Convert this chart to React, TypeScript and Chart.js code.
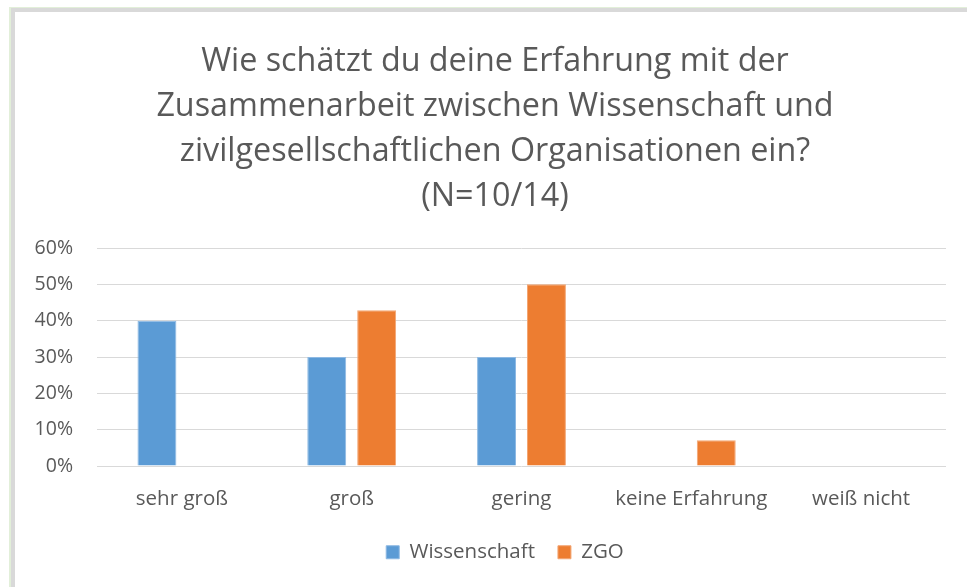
import React, { useEffect, useRef } from "react";
import { Chart, registerables } from "chart.js";

Chart.register(...registerables);

const titleLines = [
  "Wie schätzt du deine Erfahrung mit der",
  "Zusammenarbeit zwischen Wissenschaft und",
  "zivilgesellschaftlichen Organisationen ein?",
  "(N=10/14)",
];
const categories = ["sehr groß", "groß", "gering", "keine Erfahrung", "weiß nicht"];
const wissenschaft = [40, 30, 30, 0, 0];
const zgo = [0, 42.9, 50, 7.1, 0];
const yMax = 60;
const yStep = 10;

const FONT = "'Open Sans', 'Noto Sans', sans-serif";
const TEXT = "#595959";
const TITLE_SHIFT = 22;
const LEGEND_SHIFT = 32;

const boxShift = {
  id: "boxShift",
  afterLayout(chart: any) {
    const l = chart.legend;
    if (l) {
      l.left += LEGEND_SHIFT;
      l.right += LEGEND_SHIFT;
    }
    const t = chart.titleBlock;
    if (t) {
      t.left += TITLE_SHIFT;
      t.right += TITLE_SHIFT;
    }
  },
};

export default function App() {
  const ref = useRef<HTMLCanvasElement | null>(null);
  useEffect(() => {
    if (!ref.current) return;
    const chart = new Chart(ref.current, {
      type: "bar",
      data: {
        labels: categories,
        datasets: [
          {
            label: "Wissenschaft",
            data: wissenschaft,
            backgroundColor: "#5B9BD5",
            borderColor: "#8DB9E3",
            borderWidth: 1,
            barPercentage: 0.78,
            categoryPercentage: 0.588,
          },
          {
            label: "ZGO",
            data: zgo,
            backgroundColor: "#ED7D31",
            borderColor: "#F3A674",
            borderWidth: 1,
            barPercentage: 0.78,
            categoryPercentage: 0.588,
          },
        ],
      },
      plugins: [boxShift],
      options: {
        responsive: false,
        animation: false,
        layout: { padding: { left: 0, right: 21, top: 0, bottom: 14.5 } },
        plugins: {
          title: {
            display: true,
            text: titleLines,
            color: TEXT,
            font: { family: FONT, size: 32.3, weight: "normal", lineHeight: "45px" },
            padding: { top: 39, bottom: 29 },
          },
          legend: {
            position: "bottom",
            labels: {
              color: TEXT,
              font: { family: FONT, size: 20.5 },
              boxWidth: 13,
              boxHeight: 13,
              padding: 23,
            },
          },
          tooltip: { enabled: false },
        },
        scales: {
          x: {
            grid: { display: false },
            border: { display: false },
            ticks: {
              color: TEXT,
              font: { family: FONT, size: 20.5 },
              padding: 13,
              maxRotation: 0,
            },
            afterFit: (s: any) => {
              s.height = 53;
            },
          },
          y: {
            min: 0,
            max: yMax,
            grid: { color: "#D9D9D9", lineWidth: 1, drawTicks: false },
            border: { display: false },
            ticks: {
              stepSize: yStep,
              color: TEXT,
              font: { family: FONT, size: 19.5 },
              padding: 24,
              callback: (v: any) => `${v}%`,
            },
            afterFit: (s: any) => {
              s.width = 97;
            },
          },
        },
      },
    });
    return () => chart.destroy();
  }, []);

  return (
    <div style={{ position: "fixed", left: 0, top: 0, width: 967, height: 587, background: "#fff" }}>
      <canvas ref={ref} width={967} height={587} style={{ position: "absolute", left: 0, top: 0 }} />
      <div
        style={{
          position: "absolute",
          left: 9,
          top: 7,
          width: 958,
          height: 580,
          boxSizing: "border-box",
          borderTop: "1px solid #E2EFD9",
          borderLeft: "2px solid #E2EFD9",
          pointerEvents: "none",
        }}
      >
        <div
          style={{
            width: "100%",
            height: "100%",
            boxSizing: "border-box",
            borderTop: "4px solid #D9D9D9",
            borderLeft: "4px solid #D9D9D9",
          }}
        />
      </div>
    </div>
  );
}
